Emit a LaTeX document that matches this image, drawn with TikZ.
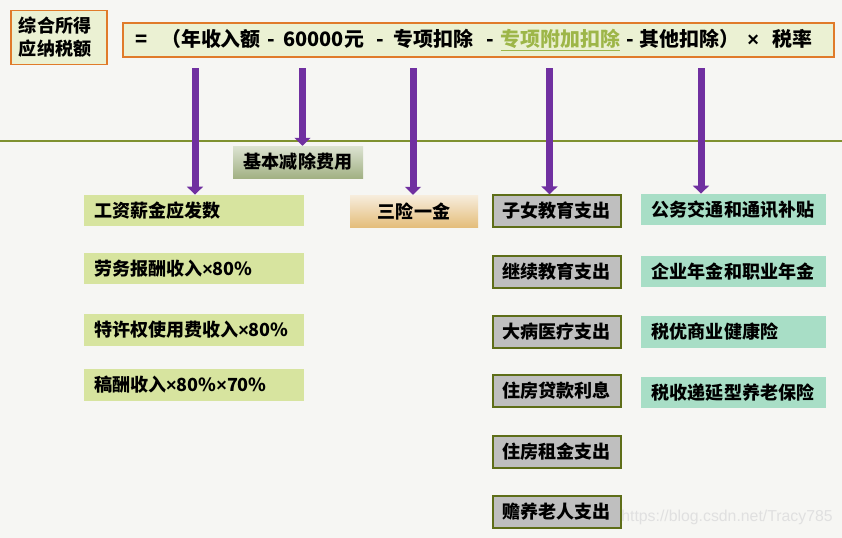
\documentclass[tikz,border=0pt]{standalone}
\usepackage{fontspec}
\setmainfont{Noto Sans CJK SC}
\newfontfamily\markfont{Liberation Sans}
\newcommand{\timesmark}{{\markfont\bfseries ×}}
\usetikzlibrary{arrows.meta, positioning}
\definecolor{paper}{HTML}{F6F6F3}
\definecolor{frameorange}{HTML}{E07B2A}
\definecolor{formulafill}{HTML}{EBF1D3}
\definecolor{ruleolive}{HTML}{7F9130}
\definecolor{arrowpurple}{HTML}{7030A0}
\definecolor{basetop}{HTML}{DCE3D2}
\definecolor{basebottom}{HTML}{A2B184}
\definecolor{incomefill}{HTML}{D7E49F}
\definecolor{insuretop}{HTML}{F7EDDD}
\definecolor{insurebottom}{HTML}{E4BE7C}
\definecolor{specialfill}{HTML}{BFBFBF}
\definecolor{specialline}{HTML}{5E6E18}
\definecolor{otherfill}{HTML}{A8DEC6}
\definecolor{extragreen}{HTML}{9DB648}
\tikzset{
  headbox/.style={
    rectangle, draw=frameorange, line width=0.45mm,
    fill=formulafill, inner sep=0pt,
    font=\fontsize{15.4}{19.6}\selectfont\bfseries,
  },
  income/.style={
    rectangle, fill=incomefill, inner sep=0pt,
    minimum width=66mm, minimum height=9.4mm,
    text width=60mm, align=left,
    font=\fontsize{15.4}{18}\selectfont\bfseries,
  },
  basic/.style={
    rectangle, top color=basetop, bottom color=basebottom,
    minimum width=39mm, minimum height=9.6mm,
    font=\fontsize{15.4}{18}\selectfont\bfseries,
  },
  insure/.style={
    rectangle, top color=insuretop, bottom color=insurebottom,
    minimum width=38.4mm, minimum height=9.6mm,
    font=\fontsize{15.4}{18}\selectfont\bfseries,
  },
  special/.style={
    rectangle, draw=specialline, line width=0.6mm,
    fill=specialfill, inner sep=0pt,
    minimum width=38.4mm, minimum height=9.4mm,
    font=\fontsize{15.4}{18}\selectfont\bfseries,
  },
  other/.style={
    rectangle, fill=otherfill, inner sep=0pt,
    minimum width=55.5mm, minimum height=9.4mm,
    text width=49mm, align=left,
    font=\fontsize{15.4}{18}\selectfont\bfseries,
  },
  down/.style={-{Triangle[length=2.4mm,width=4.8mm]}, line width=2.1mm, color=arrowpurple},
}

\begin{document}
\begin{tikzpicture}[x=0.3mm, y=-0.3mm]

  % page
  \fill[paper] (0,0) rectangle (842,538);
  \useasboundingbox (0,0) rectangle (842,538);

  % formula row
  \node[headbox, minimum width=28.8mm, minimum height=16.2mm,
        text width=24mm, align=left] (tax) at (59,37.5) {综合所得\\应纳税额};
  \node[headbox, minimum width=213.3mm, minimum height=10.2mm,
        text width=206mm, align=left, font=\fontsize{17}{20}\selectfont\bfseries]
        (formula) at (478.5,40)
        {=\hspace{0.7em}（年收入额\hspace{0.35em}-\hspace{0.4em}60000元\hspace{0.65em}-\hspace{0.45em}专项扣除\hspace{0.65em}-\hspace{0.35em}\textcolor{extragreen}{\underline{专项附加扣除}}\hspace{0.3em}-\hspace{0.3em}其他扣除）\hspace{0.4em}\timesmark\hspace{0.7em}税率};

  \draw[ruleolive, line width=0.6mm] (0,141) -- (842,141);

  % income column
  \node[income] (wage) at (194,210.5) {工资薪金应发数};
  \node[income] (labour) at (194,268.5) {劳务报酬收入\timesmark 80\%};
  \node[income] (royalty) at (194,330) {特许权使用费收入\timesmark 80\%};
  \node[income] (author) at (194,385) {稿酬收入\timesmark 80\%\timesmark 70\%};

  \node[basic] (base) at (298,162) {基本减除费用};
  \node[insure] (social) at (414,211) {三险一金};

  % special additional deductions
  \node[special] (child) at (556.5,211) {子女教育支出};
  \node[special] (study) at (556.5,272) {继续教育支出};
  \node[special] (ill) at (556.5,332) {大病医疗支出};
  \node[special] (loan) at (556.5,391) {住房贷款利息};
  \node[special] (rent) at (556.5,452) {住房租金支出};
  \node[special] (elder) at (556.5,512) {赡养老人支出};

  % other deductions
  \node[other] (traffic) at (733.5,209.5) {公务交通和通讯补贴};
  \node[other] (annuity) at (733.5,271.5) {企业年金和职业年金};
  \node[other] (health) at (733.5,332) {税优商业健康险};
  \node[other] (pension) at (733.5,392.5) {税收递延型养老保险};

  \node[text=black!12, font=\markfont\fontsize{13.5}{16}\selectfont] (mark) at (727,517) {https://blog.csdn.net/Tracy785};

  \coordinate (from1) at (195,68);
  \coordinate (from2) at (302.5,68);
  \coordinate (from3) at (413,68);
  \coordinate (from4) at (549.5,68);
  \coordinate (from5) at (701,68);

  \draw[down] (from1) -- (from1 |- wage.north);
  \draw[down] (from2) -- (from2 |- base.north);
  \draw[down] (from3) -- (from3 |- social.north);
  \draw[down] (from4) -- (from4 |- child.north);
  \draw[down] (from5) -- (from5 |- traffic.north);

\end{tikzpicture}
\end{document}
